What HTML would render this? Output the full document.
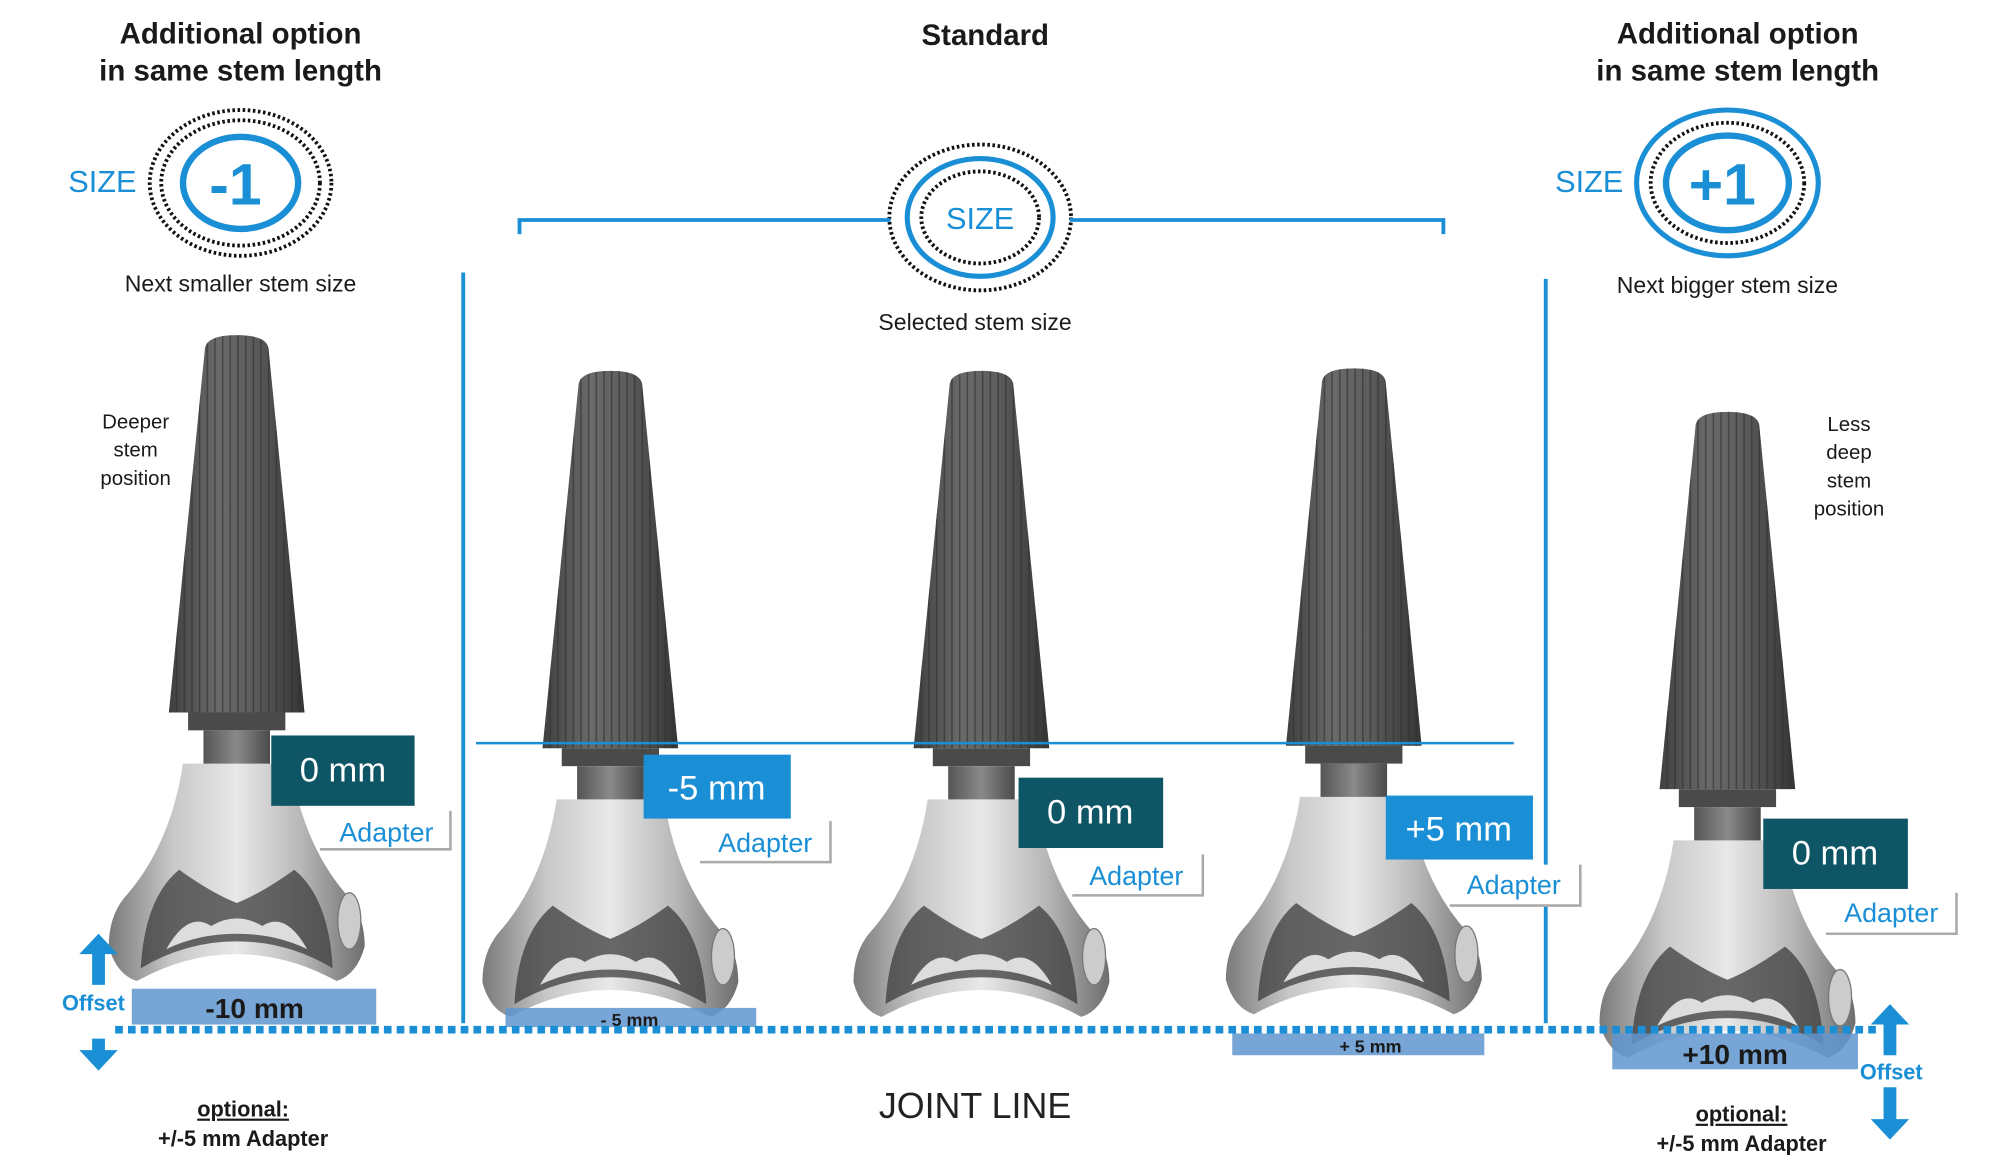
<!DOCTYPE html>
<html><head><meta charset="utf-8"><style>
html,body{margin:0;padding:0;background:#fff;}
svg{display:block;}
text{font-family:"Liberation Sans",sans-serif;}
</style></head><body>
<svg width="2000" height="1155" viewBox="0 0 1563 903" preserveAspectRatio="none" xmlns="http://www.w3.org/2000/svg">
<defs>
 <linearGradient id="stemG" x1="0" x2="1">
  <stop offset="0" stop-color="#3f3f3f"/><stop offset="0.35" stop-color="#6a6a6a"/><stop offset="0.6" stop-color="#5e5e5e"/><stop offset="1" stop-color="#353535"/>
 </linearGradient>
 <pattern id="flutes" width="6" height="10" patternUnits="userSpaceOnUse">
  <rect width="6" height="10" fill="none"/><line x1="1" y1="0" x2="1" y2="10" stroke="#2e2e2e" stroke-width="1.2" opacity="0.6"/>
 </pattern>
 <linearGradient id="bodyG" x1="0" x2="1">
  <stop offset="0" stop-color="#7a7a7a"/><stop offset="0.25" stop-color="#c8c8c8"/><stop offset="0.5" stop-color="#e8e8e8"/><stop offset="0.75" stop-color="#b8b8b8"/><stop offset="1" stop-color="#6e6e6e"/>
 </linearGradient>
 <linearGradient id="neckG" x1="0" x2="1">
  <stop offset="0" stop-color="#555"/><stop offset="0.5" stop-color="#8a8a8a"/><stop offset="1" stop-color="#4a4a4a"/>
 </linearGradient>
 <g id="stem">
  <path d="M-25,12 Q-25,0 0,0 Q25,0 25,12 L53,295 L-53,295 Z" fill="url(#stemG)"/>
  <path d="M-25,12 Q-25,0 0,0 Q25,0 25,12 L53,295 L-53,295 Z" fill="url(#flutes)"/>
  <rect x="-38" y="295" width="76" height="14" fill="#4a4a4a"/>
  <rect x="-26" y="309" width="52" height="30" fill="url(#neckG)"/>
  <path d="M-42,335 L42,335 Q52,400 88,440 Q100,455 100,478 Q94,500 78,505 Q40,484 0,484 Q-40,484 -78,505 Q-94,500 -100,478 Q-100,455 -88,440 Q-52,400 -42,335 Z" fill="url(#bodyG)"/>
  <path d="M-75,495 Q-72,440 -45,418 Q-20,436 0,444 Q20,436 45,418 Q72,440 75,495 Q40,474 0,474 Q-40,474 -75,495 Z" fill="#3c3c3c" opacity="0.75"/>
  <path d="M-55,480 Q-38,450 -20,462 Q0,450 20,462 Q38,450 55,480 Q30,468 0,468 Q-30,468 -55,480Z" fill="#ddd"/>
  <ellipse cx="88" cy="458" rx="9" ry="22" fill="#ccc" stroke="#777"/>
 </g>
</defs>

<g font-weight="bold" fill="#1a1a1a" font-size="23" text-anchor="middle">
 <text x="188" y="34">Additional option</text><text x="188" y="63">in same stem length</text>
 <text x="770" y="35">Standard</text>
 <text x="1358" y="34">Additional option</text><text x="1358" y="63">in same stem length</text>
</g>
<g font-size="18" fill="#1a1a1a" text-anchor="middle">
 <text x="188" y="228">Next smaller stem size</text>
 <text x="762" y="258">Selected stem size</text>
 <text x="1350" y="229">Next bigger stem size</text>
 <text x="106" y="335" font-size="16">Deeper</text><text x="106" y="357" font-size="16">stem</text><text x="106" y="379" font-size="16">position</text>
 <text x="1445" y="337" font-size="16">Less</text><text x="1445" y="359" font-size="16">deep</text><text x="1445" y="381" font-size="16">stem</text><text x="1445" y="403" font-size="16">position</text>
</g>

<g fill="none">
 <ellipse cx="188" cy="143" rx="71" ry="57" stroke="#111" stroke-width="3" stroke-dasharray="2 2"/>
 <ellipse cx="188" cy="143" rx="62" ry="49" stroke="#111" stroke-width="3" stroke-dasharray="2 2"/>
 <ellipse cx="188" cy="143" rx="45" ry="36" stroke="#1a8fd6" stroke-width="5"/>
 <ellipse cx="766" cy="170" rx="71" ry="57" stroke="#111" stroke-width="3" stroke-dasharray="2 2"/>
 <ellipse cx="766" cy="170" rx="57" ry="46" stroke="#1a8fd6" stroke-width="4"/>
 <ellipse cx="766" cy="170" rx="46" ry="36" stroke="#111" stroke-width="3" stroke-dasharray="2 2"/>
 <ellipse cx="1350" cy="143" rx="71" ry="57" stroke="#1a8fd6" stroke-width="4"/>
 <ellipse cx="1350" cy="143" rx="60" ry="47" stroke="#111" stroke-width="3" stroke-dasharray="2 2"/>
 <ellipse cx="1350" cy="143" rx="48" ry="37" stroke="#1a8fd6" stroke-width="5"/>
</g>
<g fill="#1a8fd6" text-anchor="middle">
 <text x="80" y="150" font-size="24">SIZE</text>
 <text x="184" y="160" font-size="46" font-weight="bold">-1</text>
 <text x="766" y="179" font-size="24">SIZE</text>
 <text x="1242" y="150" font-size="24">SIZE</text>
 <text x="1346" y="160" font-size="46" font-weight="bold">+1</text>
</g>

<g stroke="#1a8fd6" stroke-width="3" fill="none">
 <path d="M406,183 V172 H696 M836,172 H1128 V183"/>
 <line x1="362" y1="213" x2="362" y2="800"/>
 <line x1="1208" y1="218" x2="1208" y2="800"/>
</g>

<use href="#stem" x="185" y="262"/>
<use href="#stem" x="477" y="290"/>
<use href="#stem" x="767" y="290"/>
<use href="#stem" x="1058" y="288"/>
<use href="#stem" x="1350" y="322"/>

<line x1="372" y1="581" x2="1183" y2="581" stroke="#1a8fd6" stroke-width="2"/>

<g font-size="27" fill="#fff" text-anchor="middle">
 <rect x="212" y="575" width="112" height="55" fill="#0e5566"/><text x="268" y="611">0 mm</text>
 <rect x="503" y="590" width="115" height="50" fill="#1a8fd6"/><text x="560" y="625">-5 mm</text>
 <rect x="796" y="608" width="113" height="55" fill="#0e5566"/><text x="852" y="644">0 mm</text>
 <rect x="1083" y="622" width="115" height="50" fill="#1a8fd6"/><text x="1140" y="657">+5 mm</text>
 <rect x="1378" y="640" width="113" height="55" fill="#0e5566"/><text x="1434" y="676">0 mm</text>
</g>
<g font-size="21" fill="#1a8fd6" text-anchor="middle">
 <rect x="250" y="634" width="102" height="30" fill="#fff"/><path d="M250,664 H352 V634" stroke="#aaa" stroke-width="2" fill="none"/><text x="302" y="658">Adapter</text>
 <rect x="547" y="642" width="102" height="32" fill="#fff"/><path d="M547,674 H649 V642" stroke="#aaa" stroke-width="2" fill="none"/><text x="598" y="666">Adapter</text>
 <rect x="838" y="668" width="102" height="32" fill="#fff"/><path d="M838,700 H940 V668" stroke="#aaa" stroke-width="2" fill="none"/><text x="888" y="692">Adapter</text>
 <rect x="1133" y="676" width="102" height="32" fill="#fff"/><path d="M1133,708 H1235 V676" stroke="#aaa" stroke-width="2" fill="none"/><text x="1183" y="699">Adapter</text>
 <rect x="1427" y="698" width="102" height="32" fill="#fff"/><path d="M1427,730 H1529 V698" stroke="#aaa" stroke-width="2" fill="none"/><text x="1478" y="721">Adapter</text>
</g>

<g fill="#5f95cf" opacity="0.85">
 <rect x="103" y="773" width="191" height="28"/>
 <rect x="395" y="788" width="196" height="15"/>
 <rect x="963" y="808" width="197" height="17"/>
 <rect x="1260" y="808" width="192" height="28"/>
</g>
<g font-weight="bold" fill="#1a1a1a" text-anchor="middle">
 <text x="199" y="796" font-size="22">-10 mm</text>
 <text x="492" y="802" font-size="14">-  5 mm</text>
 <text x="1071" y="823" font-size="14">+  5 mm</text>
 <text x="1356" y="832" font-size="22">+10 mm</text>
</g>

<line x1="90" y1="805" x2="1470" y2="805" stroke="#1a8fd6" stroke-width="6" stroke-dasharray="6 4"/>

<g fill="#1a8fd6">
 <polygon points="77,730 92,746 82,746 82,770 72,770 72,746 62,746"/>
 <polygon points="77,837 92,821 82,821 82,812 72,812 72,821 62,821"/>
 <polygon points="1477,785 1492,801 1482,801 1482,825 1472,825 1472,801 1462,801"/>
 <polygon points="1477,891 1492,875 1482,875 1482,850 1472,850 1472,875 1462,875"/>
 <text x="73" y="790" font-size="17" font-weight="bold" text-anchor="middle">Offset</text>
 <text x="1478" y="844" font-size="17" font-weight="bold" text-anchor="middle">Offset</text>
</g>

<text x="762" y="874" font-size="28" fill="#222" text-anchor="middle">JOINT LINE</text>
<g font-size="17" font-weight="bold" fill="#1a1a1a" text-anchor="middle">
 <text x="190" y="873" text-decoration="underline">optional:</text>
 <text x="190" y="896">+/-5 mm Adapter</text>
 <text x="1361" y="877" text-decoration="underline">optional:</text>
 <text x="1361" y="900">+/-5 mm Adapter</text>
</g>
</svg>
</body></html>
